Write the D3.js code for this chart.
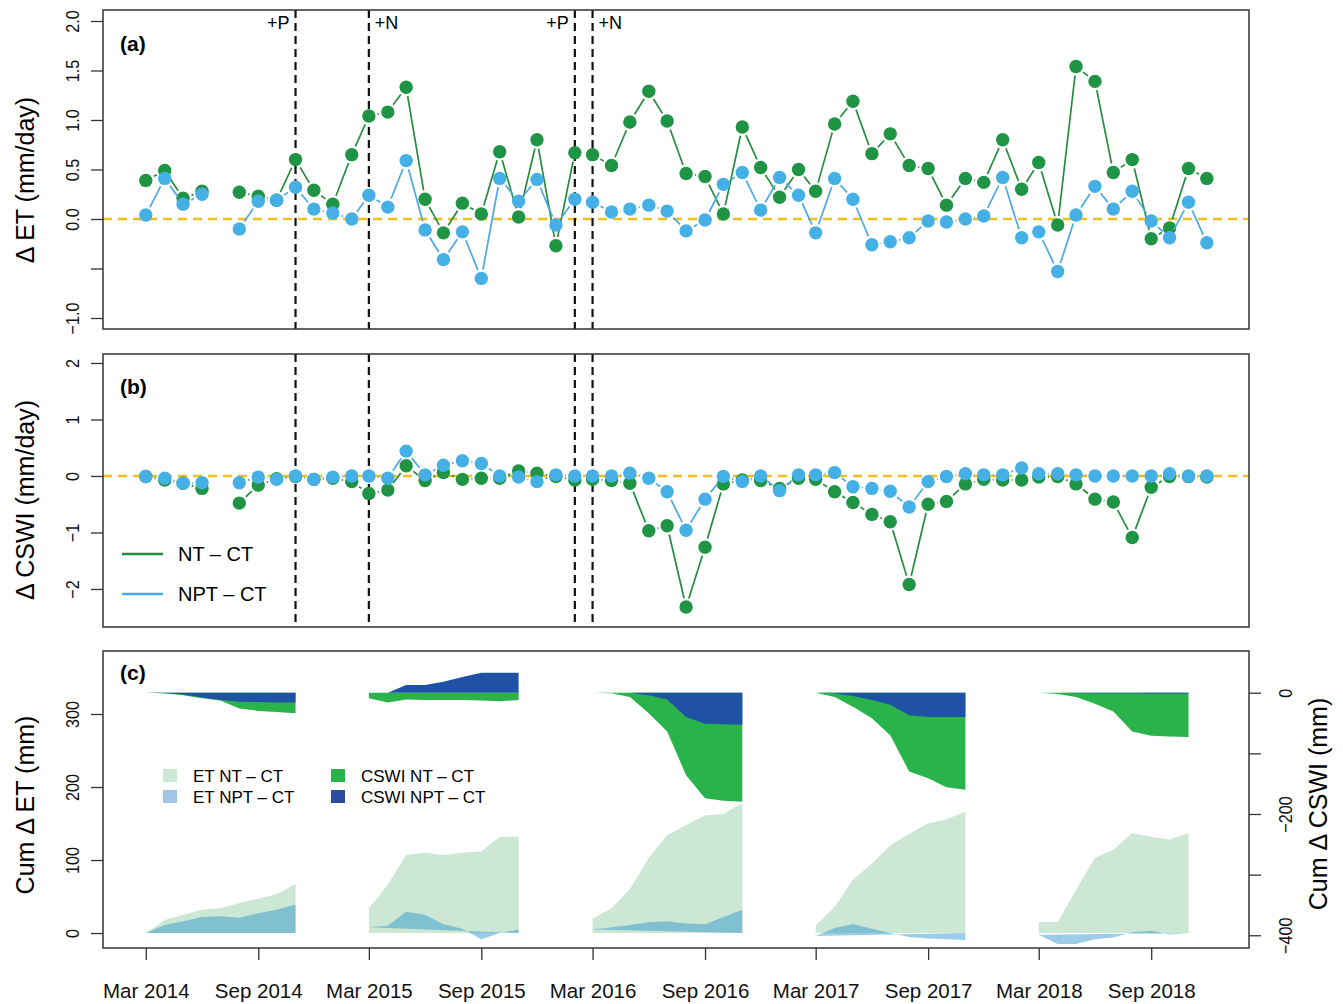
<!DOCTYPE html>
<html>
<head>
<meta charset="utf-8">
<script src="https://cdn.jsdelivr.net/npm/d3@7"></script>
<style>
    body { margin: 0; background: #fff; }
    svg { font-family: "Liberation Sans", Arial, sans-serif; }
    .frame { fill: none; stroke: #333; stroke-width: 1.5; }
    .axis line { stroke: #333; stroke-width: 1.3; }
    .axis path { display: none; }
    .axis text { fill: #111; }
</style>
</head>
<body>
<svg id="chart" width="1343" height="1004"></svg>
<script>

// monthly differences, Mar 2014 .. Dec 2018 (null = no data)
var months = d3.timeMonth.range(new Date(2014, 2, 1), new Date(2019, 0, 1));

var etNT = [0.39, 0.49, 0.21, 0.28, null, 0.27, 0.23, 0.19, 0.60, 0.29, 0.15, 0.65,
    1.04, 1.08, 1.33, 0.20, -0.14, 0.16, 0.05, 0.68, 0.02, 0.80, -0.27, 0.67,
    0.65, 0.54, 0.98, 1.29, 0.99, 0.46, 0.43, 0.05, 0.93, 0.52, 0.22, 0.50,
    0.28, 0.96, 1.19, 0.66, 0.86, 0.54, 0.51, 0.14, 0.41, 0.37, 0.80, 0.30,
    0.57, -0.06, 1.54, 1.39, 0.47, 0.60, -0.20, -0.09, 0.51, 0.41];
var etNPT = [0.04, 0.41, 0.15, 0.25, null, -0.10, 0.18, 0.19, 0.32, 0.10, 0.06, 0.00,
    0.24, 0.12, 0.59, -0.11, -0.41, -0.13, -0.60, 0.41, 0.18, 0.40, -0.06, 0.20,
    0.17, 0.07, 0.10, 0.14, 0.08, -0.12, -0.01, 0.35, 0.47, 0.09, 0.42, 0.24,
    -0.14, 0.41, 0.20, -0.26, -0.23, -0.19, -0.02, -0.03, 0.00, 0.03, 0.42, -0.19,
    -0.13, -0.53, 0.04, 0.33, 0.10, 0.28, -0.02, -0.19, 0.17, -0.24];
var cswiNT = [-0.01, -0.07, -0.13, -0.22, null, -0.48, -0.16, -0.05, -0.01, -0.06, -0.04, -0.10,
    -0.31, -0.25, 0.18, -0.08, 0.06, -0.06, -0.04, -0.04, 0.09, 0.05, -0.01, -0.07,
    -0.06, -0.08, -0.13, -0.97, -0.88, -2.32, -1.26, -0.14, -0.07, -0.08, -0.22, -0.04,
    -0.06, -0.28, -0.47, -0.68, -0.81, -1.92, -0.50, -0.45, -0.14, -0.06, -0.07, -0.07,
    -0.02, -0.01, -0.14, -0.41, -0.46, -1.09, -0.20, -0.01, -0.01, -0.02];
var cswiNPT = [-0.01, -0.04, -0.13, -0.12, null, -0.12, -0.02, -0.06, 0.00, -0.06, -0.02, 0.00,
    0.00, -0.04, 0.44, 0.02, 0.19, 0.27, 0.22, 0.00, -0.02, -0.10, 0.02, 0.00,
    0.00, 0.00, 0.05, -0.04, -0.28, -0.96, -0.41, -0.01, -0.10, 0.00, -0.26, 0.02,
    0.02, 0.06, -0.19, -0.22, -0.27, -0.55, -0.10, -0.01, 0.04, 0.02, 0.02, 0.14,
    0.04, 0.04, 0.02, 0.00, 0.00, 0.00, 0.00, 0.04, 0.00, 0.00];

// cumulative differences per growing season (Mar..Nov), mm
var seasonStarts = ["2014-03", "2015-03", "2016-03", "2017-03", "2018-03"];
var cumEtNT = [
    [0, 18, 25, 32, 34, 41, 47, 53, 67],
    [34, 66, 107, 110, 107, 110, 112, 132, 132],
    [20, 34, 60, 103, 134, 148, 161, 163, 178],
    [10, 36, 73, 95, 120, 136, 150, 156, 166],
    [15, 15, 59, 103, 114, 137, 132, 128, 137]];
var cumEtNPT = [
    [0, 11, 16, 22, 23, 21, 27, 32, 39],
    [8, 10, 29, 25, 12, 6, -9, 0, 5],
    [5, 8, 11, 14.6, 16, 13, 12, 22, 32],
    [-4, 7, 12.5, 6, 0, -5.5, -7.5, -8.5, -9.5],
    [-2.5, -15, -15, -8.5, -6, 1, 3, -2, 0]];
var cumCswiNT = [
    [0, -1, -4, -9, -13, -26, -30, -32, -34],
    [-9, -16, -11, -12, -12, -12, -13, -14, -12],
    [0, -1, -7, -34, -64, -136, -174, -178, -180],
    [0, -7, -23, -42, -70, -130, -141, -156, -160],
    [0, -2, -7, -18, -31, -64, -71, -72, -73]];
var cumCswiNPT = [
    [0, -1, -3, -8, -12, -15, -15.5, -16, -16],
    [0, 0, 12.6, 12.6, 18, 26, 33, 33, 33],
    [0, 0, 0, -4, -11, -40, -51, -52, -53],
    [0, -1, -5.5, -12, -20, -37, -40, -40, -40],
    [0, 0, -0.5, -1, -1, -1, -1.5, -1.5, -1.5]];

// treatments
var treatDates = ["2014-11", "2015-03", "2016-02", "2016-03"];
var treatLabels = ["+P", "+N", "+P", "+N"];

// axis ticks
var xTickDates = ["2014-03", "2014-09", "2015-03", "2015-09", "2016-03", "2016-09",
    "2017-03", "2017-09", "2018-03", "2018-09"];
var ticksA = [2.0, 1.5, 1.0, 0.5, 0.0, -0.5, -1.0];
var ticksB = [2, 1, 0, -1, -2];
var ticksC = [0, 100, 200, 300];
var ticksR = [0, -100, -200, -300, -400];

var parseM = d3.timeParse("%Y-%m");

var colNT = "#1f9444", colNPT = "#45b0e6";
var lineNT = "#268c3e", lineNPT = "#4aaae2";
var fillEtNT = "#cce8d5", fillEtNPT = "rgba(40,145,205,0.46)";
var fillCsNT = "#2ab34a", fillCsNPT = "#1f52a4";

var L = 103, R = 1249;
var pA = {top: 10, bottom: 329}, pB = {top: 354, bottom: 627}, pC = {top: 651, bottom: 948};

var svg = d3.select("#chart");

var x = d3.scaleTime()
    .domain([new Date(2013, 11, 21), new Date(2019, 1, 8)])
    .range([L, R]);
var yA = d3.scaleLinear().domain([-1.111, 2.111]).range([pA.bottom, pA.top]);
var yB = d3.scaleLinear().domain([-2.673, 2.159]).range([pB.bottom, pB.top]);
var yC = d3.scaleLinear().domain([-20.5, 386.3]).range([pC.bottom, pC.top]);
var yR = d3.scaleLinear().domain([-421, 68.8]).range([pC.bottom, pC.top]);

function leftAxis(scale, ticks, fmt) {
    var g = svg.append("g").attr("class", "axis")
        .attr("transform", "translate(" + L + ",0)")
        .call(d3.axisLeft(scale).tickValues(ticks).tickSize(12).tickFormat(fmt));
    g.selectAll("text")
        .attr("x", 0).attr("y", -24).attr("dy", 0)
        .attr("text-anchor", "middle")
        .attr("transform", "rotate(-90) scale(0.85,1)")
        .style("font-size", "19px");
}

function zeroLine(y) {
    svg.append("line")
        .attr("x1", L).attr("x2", R)
        .attr("y1", y(0)).attr("y2", y(0))
        .attr("stroke", "#f2c01c").attr("stroke-width", 2.6)
        .attr("stroke-dasharray", "9,6");
}

function treatLines(p) {
    treatDates.forEach(function (d) {
        svg.append("line")
            .attr("x1", x(parseM(d))).attr("x2", x(parseM(d)))
            .attr("y1", p.top).attr("y2", p.bottom)
            .attr("stroke", "#111").attr("stroke-width", 2.2)
            .attr("stroke-dasharray", "8,5");
    });
}

// R type="b": segments with gaps around the points
function series(vals, y, lineCol, ptCol) {
    var gap = 9;
    for (var i = 0; i < vals.length - 1; i++) {
        if (vals[i] == null || vals[i + 1] == null) continue;
        var x1 = x(months[i]), y1 = y(vals[i]), x2 = x(months[i + 1]), y2 = y(vals[i + 1]);
        var dx = x2 - x1, dy = y2 - y1, len = Math.sqrt(dx * dx + dy * dy);
        if (len <= 2 * gap) continue;
        var ux = dx / len, uy = dy / len;
        svg.append("line")
            .attr("x1", x1 + ux * gap).attr("y1", y1 + uy * gap)
            .attr("x2", x2 - ux * gap).attr("y2", y2 - uy * gap)
            .attr("stroke", lineCol).attr("stroke-width", 1.7);
    }
    svg.append("g").selectAll("circle")
        .data(vals.map(function (v, i) { return {d: months[i], v: v}; })
            .filter(function (p) { return p.v != null; }))
        .enter().append("circle")
        .attr("cx", function (p) { return x(p.d); })
        .attr("cy", function (p) { return y(p.v); })
        .attr("r", 6.7)
        .attr("fill", ptCol);
}

// ---- panel (a)
zeroLine(yA);
treatLines(pA);
series(etNT, yA, lineNT, colNT);
series(etNPT, yA, lineNPT, colNPT);
treatDates.forEach(function (d, i) {
    var left = i % 2 === 0;
    svg.append("text")
        .attr("x", x(parseM(d)) + (left ? -6 : 6))
        .attr("y", 29)
        .attr("text-anchor", left ? "end" : "start")
        .style("font-size", "18px")
        .text(treatLabels[i]);
});

// ---- panel (b)
zeroLine(yB);
treatLines(pB);
series(cswiNT, yB, lineNT, colNT);
series(cswiNPT, yB, lineNPT, colNPT);

var legB = [["NT \u2013 CT", lineNT], ["NPT \u2013 CT", lineNPT]];
legB.forEach(function (l, i) {
    var yy = 554 + i * 40;
    svg.append("line").attr("x1", 122).attr("x2", 163).attr("y1", yy).attr("y2", yy)
        .attr("stroke", l[1]).attr("stroke-width", 2.5);
    svg.append("text").attr("x", 178).attr("y", yy + 7)
        .style("font-size", "20px").text(l[0]);
});

// ---- panel (c)
seasonStarts.forEach(function (s, k) {
    var dates = cumEtNT[k].map(function (v, i) { return d3.timeMonth.offset(parseM(s), i); });
    var pts = function (arr) { return arr.map(function (v, i) { return {d: dates[i], v: v}; }); };

    svg.append("path")
        .attr("d", d3.area().x(function (p) { return x(p.d); })
            .y0(yC(0)).y1(function (p) { return yC(p.v); })(pts(cumEtNT[k])))
        .attr("fill", fillEtNT);

    // polygon closes from last point at zero back to the first value
    var npt = pts(cumEtNPT[k]);
    npt.push({d: dates[dates.length - 1], v: 0});
    svg.append("path")
        .attr("d", d3.line().x(function (p) { return x(p.d); })
            .y(function (p) { return yC(p.v); })(npt) + "Z")
        .attr("fill", fillEtNPT);

    svg.append("path")
        .attr("d", d3.area().x(function (p) { return x(p.d); })
            .y0(yR(0)).y1(function (p) { return yR(p.v); })(pts(cumCswiNT[k])))
        .attr("fill", fillCsNT);
    svg.append("path")
        .attr("d", d3.area().x(function (p) { return x(p.d); })
            .y0(yR(0)).y1(function (p) { return yR(p.v); })(pts(cumCswiNPT[k])))
        .attr("fill", fillCsNPT);
});

var legC = [
    ["ET NT \u2013 CT", fillEtNT, 163, 776],
    ["ET NPT \u2013 CT", "#9fc5e8", 163, 797],
    ["CSWI NT \u2013 CT", fillCsNT, 331, 776],
    ["CSWI NPT \u2013 CT", "#2c4d9f", 331, 797]];
legC.forEach(function (l) {
    svg.append("rect").attr("x", l[2]).attr("y", l[3] - 7).attr("width", 14).attr("height", 13)
        .attr("fill", l[1]);
    svg.append("text").attr("x", l[2] + 30).attr("y", l[3] + 6)
        .style("font-size", "17px").text(l[0]);
});

// ---- frames and axes
[pA, pB, pC].forEach(function (p) {
    svg.append("rect").attr("class", "frame")
        .attr("x", L).attr("y", p.top).attr("width", R - L).attr("height", p.bottom - p.top);
});

leftAxis(yA, ticksA, function (d) { return d === -0.5 ? "" : d3.format(".1f")(d); });
leftAxis(yB, ticksB, d3.format("d"));
leftAxis(yC, ticksC, d3.format("d"));

var gR = svg.append("g").attr("class", "axis")
    .attr("transform", "translate(" + R + ",0)")
    .call(d3.axisRight(yR).tickValues(ticksR).tickSize(12)
        .tickFormat(function (d) { return d % 200 === 0 ? d3.format("d")(d) : ""; }));
gR.selectAll("text")
    .attr("x", 0).attr("y", 43).attr("dy", 0)
    .attr("text-anchor", "middle")
    .attr("transform", "rotate(-90) scale(0.85,1)")
    .style("font-size", "19px");

var gX = svg.append("g").attr("class", "axis")
    .attr("transform", "translate(0," + pC.bottom + ")")
    .call(d3.axisBottom(x).tickValues(xTickDates.map(parseM)).tickSize(12)
        .tickFormat(d3.timeFormat("%b %Y")));
gX.selectAll("text").attr("y", 50).attr("dy", 0).style("font-size", "20.5px");

// panel letters
[["(a)", 51], ["(b)", 394], ["(c)", 680]].forEach(function (t) {
    svg.append("text").attr("x", 120).attr("y", t[1])
        .style("font-size", "21px").style("font-weight", "bold").text(t[0]);
});

// axis titles
var titles = [["\u0394 ET (mm/day)", 34, 180], ["\u0394 CSWI (mm/day)", 34, 500],
    ["Cum \u0394 ET (mm)", 34, 805]];
titles.forEach(function (t) {
    svg.append("text")
        .attr("transform", "translate(" + t[1] + "," + t[2] + ") rotate(-90)")
        .attr("text-anchor", "middle")
        .style("font-size", "25px").text(t[0]);
});
svg.append("text")
    .attr("transform", "translate(1327,804) rotate(-90)")
    .attr("text-anchor", "middle")
    .style("font-size", "25px").text("Cum \u0394 CSWI (mm)");

</script>
</body>
</html>
